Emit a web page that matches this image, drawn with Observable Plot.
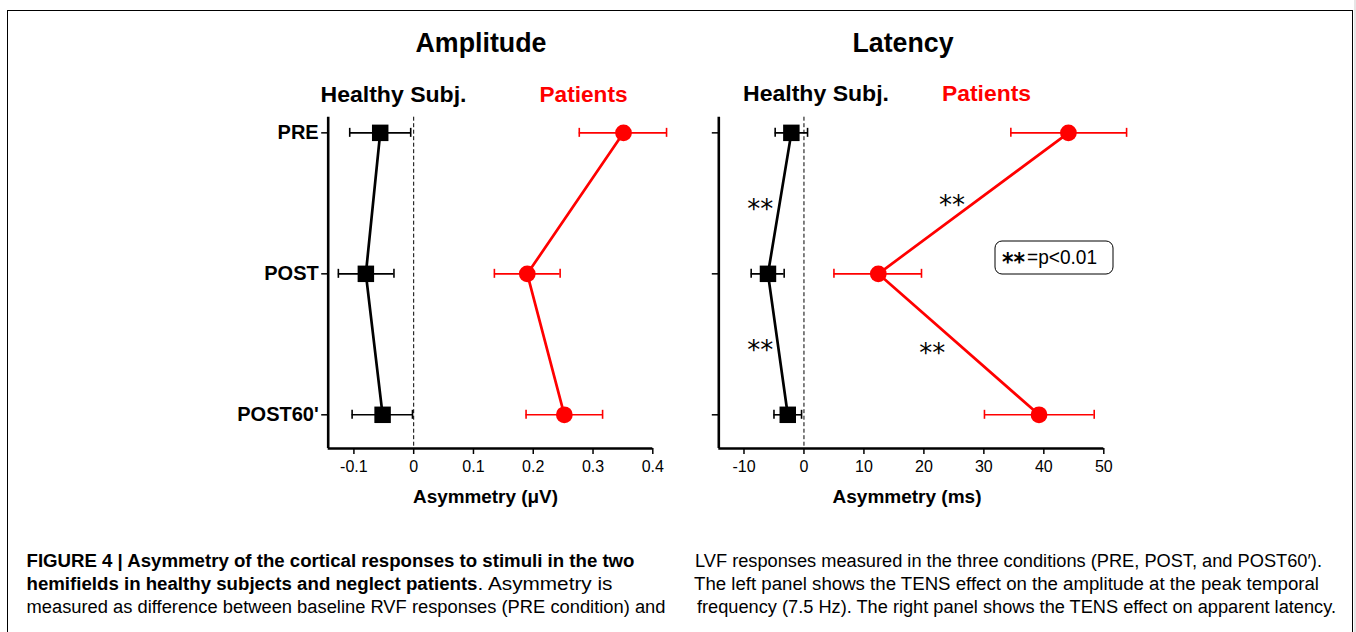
<!DOCTYPE html>
<html>
<head>
<meta charset="utf-8">
<script src="https://cdn.jsdelivr.net/npm/d3@7"></script>
<script src="https://cdn.jsdelivr.net/npm/@observablehq/plot@0.6"></script>
<style>
  html, body { margin: 0; padding: 0; background: #fff; }
  #root { position: relative; width: 1356px; height: 632px; overflow: hidden; font-family: "Liberation Sans", Arial, Helvetica, sans-serif; }
  #frame { position: absolute; left: 7px; top: 10px; width: 1344px; height: 700px; border: 1.5px solid #000; }
  #strip { position: absolute; left: 1354px; top: 0; width: 2px; height: 632px; background: #e6e6e6; }
  .panel { position: absolute; }
  #overlay { position: absolute; left: 0; top: 0; pointer-events: none; }
</style>
</head>
<body>
<div id="root">
  <div id="frame"></div>
  <div id="strip"></div>
</div>
<script>
// ---------- data ----------
const conditions = ["PRE", "POST", "POST60'"];
const condIndex = [0, 1, 2];

// Amplitude asymmetry (µV)
const ampHealthyMean = [-0.056, -0.080, -0.052];
const ampHealthyLo   = [-0.107, -0.126, -0.103];
const ampHealthyHi   = [-0.005, -0.033, -0.002];
const ampPatientMean = [0.351, 0.190, 0.252];
const ampPatientLo   = [0.277, 0.135, 0.188];
const ampPatientHi   = [0.423, 0.245, 0.316];

// Latency asymmetry (ms)
const latHealthyMean = [-2.1, -6.0, -2.7];
const latHealthyLo   = [-4.8, -8.8, -5.0];
const latHealthyHi   = [0.6, -3.3, -0.4];
const latPatientMean = [44.1, 12.4, 39.2];
const latPatientLo   = [34.5, 5.0, 30.1];
const latPatientHi   = [53.8, 19.6, 48.4];

const ampTicks = [-0.1, 0, 0.1, 0.2, 0.3, 0.4];
const latTicks = [-10, 0, 10, 20, 30, 40, 50];

// significance markers on the latency panel
const sigText = "**";
const sigHealthyX = [-7.3, -7.3];
const sigHealthyY = [0.5, 1.5];
const sigPatientX = [24.7, 21.4];
const sigPatientY = [0.47, 1.52];

// ---------- helpers ----------
const FONT = '"Liberation Sans", Arial, Helvetica, sans-serif';
const RED = "#ff0000";
const yDomain = [2.239, -0.111];

function rows(mean, lo, hi) {
  return condIndex.map(i => ({c: i, m: mean[i], lo: lo[i], hi: hi[i]}));
}

function seriesMarks(data, color, symbol, r) {
  return [
    Plot.line(data, {x: "m", y: "c", stroke: color, strokeWidth: 2.7}),
    Plot.ruleY(data, {y: "c", x1: "lo", x2: "hi", stroke: color, strokeWidth: 1.6}),
    Plot.ruleX(data, {x: "lo", y1: "c", y2: "c", insetTop: -4.5, insetBottom: -4.5, stroke: color, strokeWidth: 1.6}),
    Plot.ruleX(data, {x: "hi", y1: "c", y2: "c", insetTop: -4.5, insetBottom: -4.5, stroke: color, strokeWidth: 1.6}),
    Plot.dot(data, {x: "m", y: "c", symbol: symbol, r: r, fill: color, stroke: "none"})
  ];
}

function panel({xDomain, xTicks, healthy, patients, showYLabels, extra, width, height, ml, mr}) {
  return Plot.plot({
    width, height,
    marginLeft: ml, marginRight: mr, marginTop: 16.7, marginBottom: 72,
    style: {fontFamily: FONT, background: "transparent", overflow: "visible", color: "#000"},
    x: {domain: xDomain},
    y: {domain: yDomain},
    marks: [
      Plot.ruleX([0], {strokeDasharray: "4,2.5", strokeWidth: 1}),
      Plot.axisX({ticks: xTicks, tickFormat: d => String(d), tickSize: 6, tickPadding: 6, fontSize: 16, strokeWidth: 1.5, label: null}),
      Plot.axisY({ticks: condIndex, tickFormat: showYLabels ? (i => conditions[i]) : (() => ""), tickSize: 6.5, tickPadding: 3, fontSize: 20, fontWeight: "bold", strokeWidth: 1.5, label: null}),
      ...seriesMarks(healthy, "#000", "square", 9.3),
      ...seriesMarks(patients, RED, "circle", 8.4),
      ...(extra || []),
      Plot.ruleY([yDomain[0]], {strokeWidth: 2.6}),
      Plot.ruleX([xDomain[0]], {strokeWidth: 2.6})
    ]
  });
}

const root = document.getElementById("root");

const left = panel({
  xDomain: [-0.143, 0.4], xTicks: ampTicks,
  healthy: rows(ampHealthyMean, ampHealthyLo, ampHealthyHi),
  patients: rows(ampPatientMean, ampPatientLo, ampPatientHi),
  showYLabels: true, width: 480, height: 420, ml: 127.7, mr: 27.7
});
left.classList.add("panel");
left.style.left = "200px"; left.style.top = "100px";
root.appendChild(left);

const sigMarks = [
  Plot.text(sigHealthyX.map((x, i) => ({x, y: sigHealthyY[i]})), {x: "x", y: "y", text: () => sigText, fontSize: 26, dy: 6.5, fill: "#000", fontFamily: '"DejaVu Sans", sans-serif'}),
  Plot.text(sigPatientX.map((x, i) => ({x, y: sigPatientY[i]})), {x: "x", y: "y", text: () => sigText, fontSize: 26, dy: 6.5, fill: "#000", fontFamily: '"DejaVu Sans", sans-serif'})
];

const right = panel({
  xDomain: [-14.2, 50], xTicks: latTicks,
  healthy: rows(latHealthyMean, latHealthyLo, latHealthyHi),
  patients: rows(latPatientMean, latPatientLo, latPatientHi),
  showYLabels: false, extra: sigMarks, width: 540, height: 420, ml: 118.3, mr: 36.7
});
right.classList.add("panel");
right.style.left = "600px"; right.style.top = "100px";
root.appendChild(right);

// ---------- text overlay (titles, axis titles, legend, caption) ----------
const NS = "http://www.w3.org/2000/svg";
const ov = document.createElementNS(NS, "svg");
ov.setAttribute("id", "overlay");
ov.setAttribute("width", 1356); ov.setAttribute("height", 632);
ov.setAttribute("font-family", FONT);
root.appendChild(ov);

function txt(s, x, y, o = {}) {
  const t = document.createElementNS(NS, "text");
  t.textContent = s;
  t.setAttribute("x", x); t.setAttribute("y", y);
  t.setAttribute("font-size", o.size || 16);
  if (o.bold) t.setAttribute("font-weight", "bold");
  if (o.family) t.setAttribute("font-family", o.family);
  t.setAttribute("fill", o.fill || "#000");
  t.setAttribute("text-anchor", o.anchor || "start");
  if (o.len) { t.setAttribute("textLength", o.len); t.setAttribute("lengthAdjust", "spacingAndGlyphs"); }
  ov.appendChild(t);
  return t;
}

txt("Amplitude", 481, 52, {size: 27, bold: true, anchor: "middle", len: 131});
txt("Latency", 903, 52, {size: 27, bold: true, anchor: "middle", len: 101});
txt("Healthy Subj.", 393.5, 102, {size: 22.5, bold: true, anchor: "middle", len: 146});
txt("Patients", 583.5, 102, {size: 22.5, bold: true, anchor: "middle", fill: RED, len: 88});
txt("Healthy Subj.", 816, 101, {size: 22.5, bold: true, anchor: "middle", len: 146});
txt("Patients", 986.5, 101, {size: 22.5, bold: true, anchor: "middle", fill: RED, len: 89});
txt("Asymmetry (μV)", 485.5, 503, {size: 19, bold: true, anchor: "middle", len: 145});
txt("Asymmetry (ms)", 907, 503, {size: 19, bold: true, anchor: "middle", len: 149});

// legend box
const box = document.createElementNS(NS, "rect");
box.setAttribute("x", 995); box.setAttribute("y", 241);
box.setAttribute("width", 118); box.setAttribute("height", 33);
box.setAttribute("rx", 7); box.setAttribute("fill", "#fff");
box.setAttribute("stroke", "#000"); box.setAttribute("stroke-width", 1);
ov.appendChild(box);
txt("**", 1002, 270, {size: 24, bold: true, family: '"DejaVu Sans", sans-serif', len: 23});
txt("=p<0.01", 1027, 264, {size: 20, len: 70});

// caption
txt("FIGURE 4 | Asymmetry of the cortical responses to stimuli in the two", 26.5, 567, {size: 18, bold: true, len: 608});
txt("hemifields in healthy subjects and neglect patients", 26.5, 590, {size: 18, bold: true, len: 451});
txt(". Asymmetry is", 477.5, 590, {size: 18, len: 135});
txt("measured as difference between baseline RVF responses (PRE condition) and", 26.5, 613, {size: 18, len: 639});
txt("LVF responses measured in the three conditions (PRE, POST, and POST60′).", 695, 567, {size: 18, len: 627});
txt("The left panel shows the TENS effect on the amplitude at the peak temporal", 694, 590, {size: 18, len: 625});
txt("frequency (7.5 Hz). The right panel shows the TENS effect on apparent latency.", 697, 613, {size: 18, len: 639});
</script>
</body>
</html>
